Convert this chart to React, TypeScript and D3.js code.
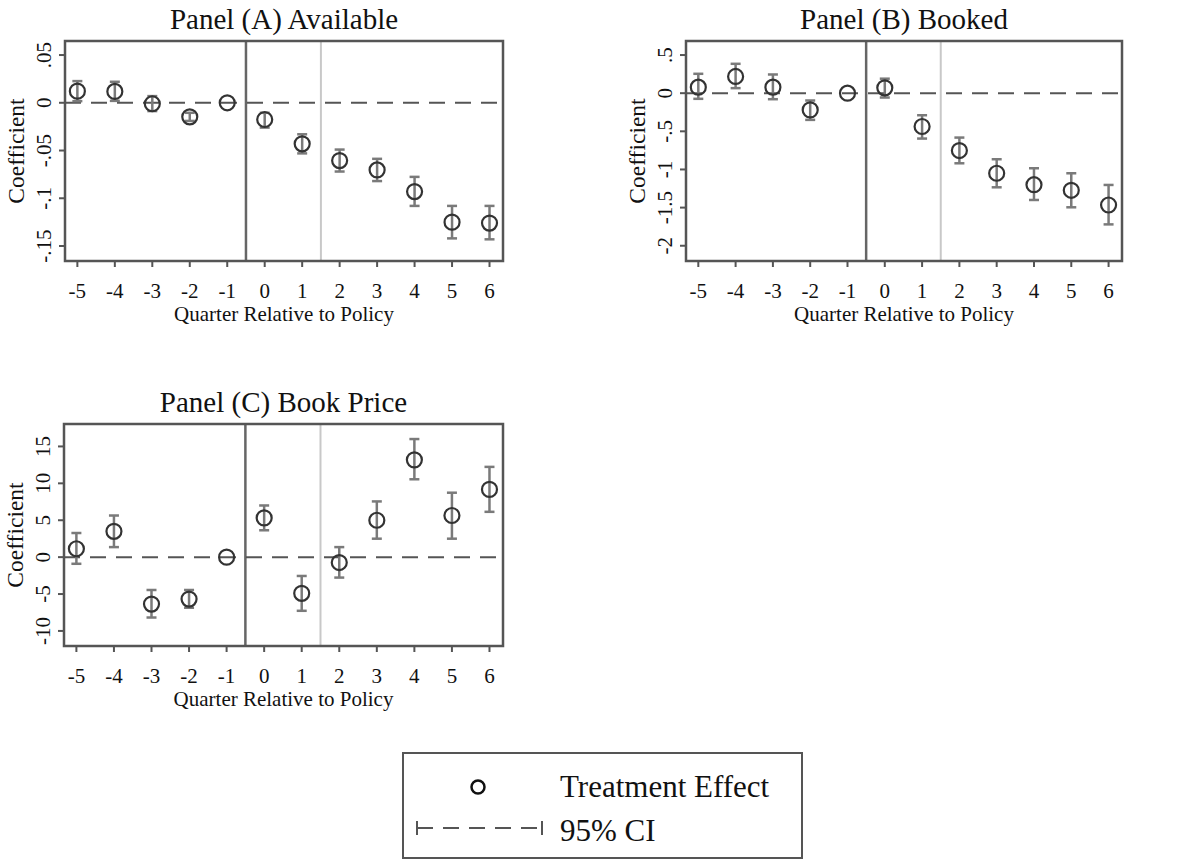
import React from 'react';
import * as d3 from 'd3';

const quarters = [-5, -4, -3, -2, -1, 0, 1, 2, 3, 4, 5, 6];

// Panel A: Available
const availableCoef = [0.0122, 0.0119, -0.001, -0.0147, 0, -0.0175, -0.043, -0.0605, -0.0703, -0.093, -0.125, -0.126];
const availableLo = [0.0017, 0.002, -0.0087, -0.019, 0, -0.026, -0.053, -0.072, -0.082, -0.108, -0.142, -0.143];
const availableHi = [0.0227, 0.022, 0.007, -0.0105, 0, -0.0105, -0.033, -0.049, -0.0587, -0.0776, -0.108, -0.108];
const availableTicks = [0.05, 0, -0.05, -0.1, -0.15];

// Panel B: Booked
const bookedCoef = [0.079, 0.219, 0.079, -0.219, 0, 0.07, -0.437, -0.752, -1.05, -1.2, -1.273, -1.466];
const bookedLo = [-0.074, 0.066, -0.079, -0.35, 0, -0.057, -0.595, -0.919, -1.234, -1.4, -1.496, -1.72];
const bookedHi = [0.254, 0.385, 0.245, -0.096, 0, 0.19, -0.289, -0.582, -0.866, -0.984, -1.05, -1.203];
const bookedTicks = [0.5, 0, -0.5, -1, -1.5, -2];

// Panel C: Book Price
const priceCoef = [1.14, 3.5, -6.36, -5.68, 0, 5.32, -4.9, -0.73, 5.0, 13.18, 5.64, 9.18];
const priceLo = [-0.9, 1.36, -8.18, -6.86, 0, 3.64, -7.27, -2.77, 2.5, 10.55, 2.5, 6.14];
const priceHi = [3.27, 5.64, -4.45, -4.45, 0, 7.0, -2.55, 1.36, 7.55, 16.0, 8.73, 12.23];
const priceTicks = [15, 10, 5, 0, -5, -10];

const FONT = '"Liberation Serif", "Times New Roman", serif';
const fmt = (v: number) => String(v).replace('0.', '.');

type PanelProps = {
  title: string;
  box: { x0: number; x1: number; y0: number; y1: number };
  yDomain: [number, number];
  ticks: number[];
  coef: number[];
  lo: number[];
  hi: number[];
};

const Panel = ({ title, box, yDomain, ticks, coef, lo, hi }: PanelProps) => {
  const x = d3.scaleLinear().domain([-5.33, 6.36]).range([box.x0, box.x1]);
  const y = d3.scaleLinear().domain(yDomain).range([box.y1, box.y0]);
  const cx = (box.x0 + box.x1) / 2;
  const cy = (box.y0 + box.y1) / 2;

  return (
    <g fontFamily={FONT} fill="#111">
      <text x={cx} y={box.y0 - 12} textAnchor="middle" fontSize={29}>
        {title}
      </text>

      {/* reference lines */}
      <line x1={x(1.5)} x2={x(1.5)} y1={box.y0} y2={box.y1} stroke="#c8c8c8" strokeWidth={2} />
      <line x1={x(-0.5)} x2={x(-0.5)} y1={box.y0} y2={box.y1} stroke="#666" strokeWidth={2.5} />
      <line
        x1={box.x0}
        x2={box.x1}
        y1={y(0)}
        y2={y(0)}
        stroke="#555"
        strokeWidth={2}
        strokeDasharray="16 10"
      />

      {/* confidence intervals */}
      {quarters.map((q, i) =>
        lo[i] === hi[i] ? null : (
          <g key={'ci' + q} stroke="#7a7a7a" strokeWidth={2.5}>
            <line x1={x(q)} x2={x(q)} y1={y(lo[i])} y2={y(hi[i])} />
            <line x1={x(q) - 5} x2={x(q) + 5} y1={y(lo[i])} y2={y(lo[i])} />
            <line x1={x(q) - 5} x2={x(q) + 5} y1={y(hi[i])} y2={y(hi[i])} />
          </g>
        )
      )}

      {/* point estimates */}
      {quarters.map((q, i) => (
        <circle key={'pt' + q} cx={x(q)} cy={y(coef[i])} r={7.5} fill="none" stroke="#333" strokeWidth={2.2} />
      ))}

      {/* frame */}
      <rect
        x={box.x0}
        y={box.y0}
        width={box.x1 - box.x0}
        height={box.y1 - box.y0}
        fill="none"
        stroke="#555"
        strokeWidth={2.5}
      />

      {/* y axis */}
      {ticks.map(t => (
        <g key={'yt' + t}>
          <line x1={box.x0 - 6} x2={box.x0} y1={y(t)} y2={y(t)} stroke="#555" strokeWidth={2} />
          <text
            transform={`translate(${box.x0 - 14},${y(t)}) rotate(-90)`}
            textAnchor="middle"
            fontSize={21}
          >
            {fmt(t)}
          </text>
        </g>
      ))}
      <text transform={`translate(${box.x0 - 41},${cy}) rotate(-90)`} textAnchor="middle" fontSize={23.5}>
        Coefficient
      </text>

      {/* x axis */}
      {quarters.map(q => (
        <g key={'xt' + q}>
          <line x1={x(q)} x2={x(q)} y1={box.y1} y2={box.y1 + 6} stroke="#555" strokeWidth={2} />
          <text x={x(q)} y={box.y1 + 37} textAnchor="middle" fontSize={21}>
            {q}
          </text>
        </g>
      ))}
      <text x={cx} y={box.y1 + 60} textAnchor="middle" fontSize={21}>
        Quarter Relative to Policy
      </text>
    </g>
  );
};

const Legend = () => {
  const lineX = d3.scaleLinear().domain([0, 1]).range([417, 542]);
  return (
    <g fontFamily={FONT} fill="#111">
      <rect x={403} y={753} width={399} height={105} fill="none" stroke="#555" strokeWidth={2} />
      <circle cx={478} cy={787} r={6.5} fill="none" stroke="#111" strokeWidth={2.5} />
      <text x={560} y={797} fontSize={31}>
        Treatment Effect
      </text>
      <g stroke="#555" strokeWidth={2}>
        <line x1={lineX(0)} x2={lineX(0)} y1={821} y2={835} />
        <line x1={lineX(1)} x2={lineX(1)} y1={821} y2={835} />
        <line x1={lineX(0)} x2={lineX(1)} y1={828} y2={828} strokeDasharray="16 10" />
      </g>
      <text x={560} y={841} fontSize={31}>
        95% CI
      </text>
    </g>
  );
};

export default function App() {
  return (
    <div style={{ position: 'absolute', left: 0, top: 0, background: '#fff' }}>
      <svg width={1204} height={859} style={{ display: 'block' }}>
        <rect width={1204} height={859} fill="#fff" />
        <Panel
          title="Panel (A) Available"
          box={{ x0: 65, x1: 503, y0: 41, y1: 261 }}
          yDomain={[-0.1657, 0.0647]}
          ticks={availableTicks}
          coef={availableCoef}
          lo={availableLo}
          hi={availableHi}
        />
        <Panel
          title="Panel (B) Booked"
          box={{ x0: 686, x1: 1122, y0: 41, y1: 261 }}
          yDomain={[-2.2, 0.684]}
          ticks={bookedTicks}
          coef={bookedCoef}
          lo={bookedLo}
          hi={bookedHi}
        />
        <Panel
          title="Panel (C) Book Price"
          box={{ x0: 64, x1: 503, y0: 424, y1: 646 }}
          yDomain={[-12.04, 18.04]}
          ticks={priceTicks}
          coef={priceCoef}
          lo={priceLo}
          hi={priceHi}
        />
        <Legend />
      </svg>
    </div>
  );
}
